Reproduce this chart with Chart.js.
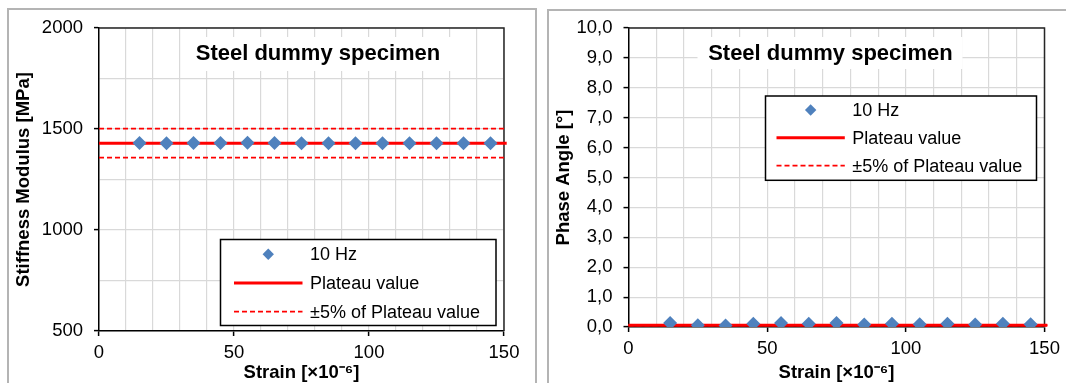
<!DOCTYPE html>
<html lang="en">
<head>
  <meta charset="UTF-8">
  <title>Steel dummy specimen</title>
  <script src="https://cdn.jsdelivr.net/npm/chart.js"></script>
  <style>
    body {
      margin: 0;
      background: #fff;
      width: 1066px;
      height: 383px;
      overflow: hidden;
      position: relative;
    }

    .frame {
      position: absolute;
      border: 2px solid #b4b4b4;
      box-sizing: border-box;
      height: 420px;
    }

    #frameL { left: 7px; top: 8px; width: 530px; }
    #frameR { left: 547px; top: 9px; width: 560px; }

    canvas { position: absolute; top: 0; }
    #stiffChart { left: 0; }
    #phaseChart { left: 540px; }
  </style>
</head>
<body>
  <div class="frame" id="frameL"></div>
  <div class="frame" id="frameR"></div>
  <canvas id="stiffChart" width="540" height="383"></canvas>
  <canvas id="phaseChart" width="526" height="383"></canvas>

  <script>
    // measured values
    const strain = [15, 25, 35, 45, 55, 65, 75, 85, 95, 105, 115, 125, 135, 145];
    const stiffness = [1431, 1429, 1431, 1431, 1432, 1431, 1430, 1429, 1430, 1429, 1430, 1430, 1429, 1429];
    const phaseAngle = [0.13, 0.06, 0.05, 0.11, 0.13, 0.11, 0.13, 0.08, 0.11, 0.09, 0.11, 0.08, 0.11, 0.09];

    // plateau lines (start / end strain)
    const lineStrain = [0, 151];
    const stiffPlateau = [1430, 1430];
    const stiffUpper = [1501.5, 1501.5];
    const stiffLower = [1358.5, 1358.5];
    const phasePlateau = [0.06, 0.06];
    const phaseUpper = [0.063, 0.063];
    const phaseLower = [0.057, 0.057];

    const seriesLabels = ['10 Hz', 'Plateau value', '±5% of Plateau value'];
    const chartTitle = 'Steel dummy specimen';

    const FONT = "'Liberation Sans', Arial, sans-serif";
    Chart.defaults.font.family = FONT;
    Chart.defaults.color = '#000';

    const pts = (xs, ys) => xs.map((x, i) => ({ x: x, y: ys[i] }));

    function makeDatasets(values, plateau, upper, lower) {
      return [
        { label: seriesLabels[0], data: pts(strain, values), showLine: false,
          pointStyle: 'rectRot', pointRadius: 7, pointHoverRadius: 7,
          backgroundColor: '#4F81BD', borderColor: '#4F81BD', borderWidth: 0 },
        { label: seriesLabels[1], data: pts(lineStrain, plateau), showLine: true,
          borderColor: '#ff0000', borderWidth: 3, pointRadius: 0, clip: false },
        { label: seriesLabels[2], data: pts(lineStrain, upper), showLine: true,
          borderColor: '#ff0000', borderWidth: 1.8, borderDash: [5, 3], pointRadius: 0, clip: false },
        { label: seriesLabels[2], data: pts(lineStrain, lower), showLine: true,
          borderColor: '#ff0000', borderWidth: 1.8, borderDash: [5, 3], pointRadius: 0, clip: false }
      ];
    }

    // title in a white box inside the plot
    const boxTitle = {
      id: 'boxTitle',
      afterDraw(chart, args, o) {
        const ctx = chart.ctx;
        ctx.save();
        ctx.fillStyle = '#fff';
        ctx.fillRect(o.box[0], o.box[1], o.box[2], o.box[3]);
        ctx.fillStyle = '#000';
        ctx.font = 'bold 22px ' + FONT;
        ctx.textAlign = 'center';
        ctx.textBaseline = 'middle';
        ctx.fillText(chartTitle, o.x, o.y);
        ctx.restore();
      }
    };

    // framed legend inside the plot
    const boxLegend = {
      id: 'boxLegend',
      afterDraw(chart, args, o) {
        const ctx = chart.ctx;
        const seen = new Set();
        const items = chart.data.datasets.filter(d => {
          if (seen.has(d.label)) return false;
          seen.add(d.label);
          return true;
        });
        ctx.save();
        ctx.fillStyle = '#fff';
        ctx.fillRect(o.x, o.y, o.w, o.h);
        ctx.strokeStyle = '#000';
        ctx.lineWidth = 1.5;
        ctx.strokeRect(o.x, o.y, o.w, o.h);
        items.forEach((d, i) => {
          const cy = o.y + o.first + i * o.gap;
          const x0 = o.x + o.s0, x1 = o.x + o.s1;
          if (d.showLine) {
            ctx.setLineDash(d.borderDash || []);
            ctx.strokeStyle = d.borderColor;
            ctx.lineWidth = d.borderWidth;
            ctx.beginPath();
            ctx.moveTo(x0, cy);
            ctx.lineTo(x1, cy);
            ctx.stroke();
            ctx.setLineDash([]);
          } else {
            const cx = (x0 + x1) / 2, r = 5.7;
            ctx.fillStyle = d.backgroundColor;
            ctx.beginPath();
            ctx.moveTo(cx - r, cy);
            ctx.lineTo(cx, cy - r);
            ctx.lineTo(cx + r, cy);
            ctx.lineTo(cx, cy + r);
            ctx.closePath();
            ctx.fill();
          }
          ctx.fillStyle = '#000';
          ctx.font = '18px ' + FONT;
          ctx.textAlign = 'left';
          ctx.textBaseline = 'middle';
          ctx.fillText(d.label, o.x + o.tx, cy + 1);
        });
        ctx.restore();
      }
    };

    // top and right edges of the plot area
    const plotFrame = {
      id: 'plotFrame',
      beforeDatasetsDraw(chart) {
        const { ctx, chartArea: a } = chart;
        ctx.save();
        ctx.strokeStyle = '#262626';
        ctx.lineWidth = 1.5;
        ctx.beginPath();
        ctx.moveTo(a.left, a.top);
        ctx.lineTo(a.right, a.top);
        ctx.lineTo(a.right, a.bottom);
        ctx.stroke();
        ctx.restore();
      }
    };

    function makeScales(o) {
      return {
        x: {
          type: 'linear', min: 0, max: 150,
          ticks: { stepSize: 10, padding: 6, autoSkip: false, maxRotation: 0, color: '#000',
                   font: { size: 18.5 }, callback: v => (v % 50 === 0 ? v : '') },
          grid: { color: '#d9d9d9', lineWidth: 1.2, tickLength: 5, tickWidth: 1.5,
                  tickColor: c => (c.tick && c.tick.value % 50 === 0 ? '#000' : 'rgba(0,0,0,0)') },
          border: { color: '#000', width: 1.5 },
          title: { display: true, text: 'Strain [×10⁻⁶]', color: '#000',
                   font: { size: 18.5, weight: 'bold', lineHeight: 1 }, padding: { top: 0, bottom: 0.75 } },
          afterFit: s => { s.height = o.xHeight; }
        },
        y: {
          type: 'linear', min: o.yMin, max: o.yMax,
          ticks: { stepSize: o.yStep, padding: 11, color: '#000', font: { size: 18.5 },
                   callback: o.yLabel },
          grid: { color: '#d9d9d9', lineWidth: 1.2, tickLength: 5, tickWidth: 1.5,
                  tickColor: c => (c.tick && o.yMajor(c.tick.value) ? '#000' : 'rgba(0,0,0,0)') },
          border: { color: '#000', width: 1.5 },
          title: { display: true, text: o.yTitle, color: '#000',
                   font: { size: 18.5, weight: 'bold', lineHeight: 1 }, padding: { top: 14.75, bottom: 0 } },
          afterFit: s => { s.width = o.yWidth; }
        }
      };
    }

    new Chart(document.getElementById('stiffChart'), {
      type: 'scatter',
      data: { datasets: makeDatasets(stiffness, stiffPlateau, stiffUpper, stiffLower) },
      options: {
        responsive: false, animation: false, devicePixelRatio: 1,
        layout: { padding: { top: 28, right: 36, bottom: 0, left: 0 } },
        scales: makeScales({
          xHeight: 52, yWidth: 99, yMin: 500, yMax: 2000, yStep: 250,
          yTitle: 'Stiffness Modulus [MPa]',
          yLabel: v => (v % 500 === 0 ? v : ''),
          yMajor: v => v % 500 === 0
        }),
        plugins: {
          legend: { display: false },
          tooltip: { enabled: false },
          boxTitle: { box: [182, 37, 269, 34], x: 318, y: 54 },
          boxLegend: { x: 220.5, y: 239.5, w: 275.5, h: 86, first: 14.7, gap: 28.7, s0: 13.5, s1: 82, tx: 89.6 }
        }
      },
      plugins: [plotFrame, boxTitle, boxLegend]
    });

    new Chart(document.getElementById('phaseChart'), {
      type: 'scatter',
      data: { datasets: makeDatasets(phaseAngle, phasePlateau, phaseUpper, phaseLower) },
      options: {
        responsive: false, animation: false, devicePixelRatio: 1,
        layout: { padding: { top: 28, right: 21.5, bottom: 0, left: 0 } },
        scales: makeScales({
          xHeight: 56, yWidth: 88.5, yMin: 0, yMax: 10, yStep: 1,
          yTitle: 'Phase Angle [°]',
          yLabel: v => v.toFixed(1).replace('.', ','),
          yMajor: v => true
        }),
        plugins: {
          legend: { display: false },
          tooltip: { enabled: false },
          boxTitle: { box: [157.5, 37, 265, 32], x: 290.4, y: 53.5 },
          boxLegend: { x: 225.5, y: 96, w: 271, h: 84.3, first: 14, gap: 27.8, s0: 11, s1: 79.3, tx: 86.8 }
        }
      },
      plugins: [plotFrame, boxTitle, boxLegend]
    });
  </script>
</body>
</html>
